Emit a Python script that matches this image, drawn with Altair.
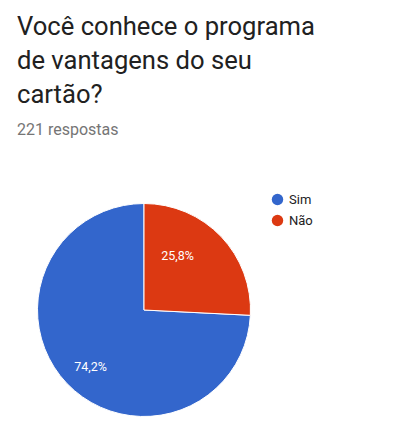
import altair as alt
import pandas as pd

categories = ["Sim", "Não"]
counts = [164, 57]
colors = ["#3366CC", "#DC3912"]
title_lines = ["Você conhece o programa", "de vantagens do seu", "cartão?"]
subtitle = "221 respostas"

df = pd.DataFrame({"cat": categories, "value": counts})

CX, CY, R = 136, 152, 106.5

base = alt.Chart(df).transform_calculate(
    ord="datum.cat == 'Não' ? 0 : 1"
).transform_joinaggregate(
    total="sum(value)"
).transform_window(
    cum="sum(value)", sort=[alt.SortField("ord")], frame=[None, 0]
).transform_calculate(
    mid="(datum.cum - datum.value / 2) / datum.total",
    label="replace(format(datum.value / datum.total * 100, '.1f'), '.', ',') + '%'"
)

color = alt.Color(
    "cat:N",
    scale=alt.Scale(domain=categories, range=colors),
    legend=alt.Legend(
        title=None, orient="none", legendX=263, legendY=35,
        symbolType="circle", symbolSize=130, symbolStrokeWidth=0,
        labelFont="Roboto", labelFontSize=13, labelColor="#222222",
        rowPadding=7, labelOffset=5,
    ),
)

arcs = base.mark_arc(radius=R, stroke="white", strokeWidth=1).encode(
    theta=alt.Theta("value:Q", stack=True),
    order=alt.Order("ord:Q"),
    color=color,
    x=alt.value(CX), y=alt.value(CY),
)

def label_layer(cat, r, dx, dy):
    return base.transform_filter(f"datum.cat == '{cat}'").mark_text(
        radius=r, dx=dx, dy=dy, font="Roboto", fontSize=12.5, color="white",
        align="center", baseline="middle",
    ).encode(
        theta=alt.Theta("mid:Q", scale=alt.Scale(domain=[0, 1])),
        text="label:N",
        x=alt.value(CX), y=alt.value(CY),
    )

chart = alt.layer(
    arcs,
    label_layer("Não", 63.5, -12.5, -10),
    label_layer("Sim", 78, 3, 3),
).resolve_scale(theta="independent").properties(
    width=384, height=265,
    autosize=alt.AutoSizeParams(type="none"),
    padding={"left": 0, "top": 150, "right": 0, "bottom": 0},
    title=alt.TitleParams(
        text=title_lines, subtitle=subtitle, anchor="start", frame="group",
        font="Roboto", fontSize=25.6, fontWeight="normal", color="#212121",
        lineHeight=34, subtitleFont="Roboto", subtitleFontSize=16,
        subtitleColor="#757575", subtitlePadding=13, dx=9, offset=20,
    ),
).configure_view(stroke=None)

chart.save("out.html", embed_options={"renderer": "svg", "actions": False})
